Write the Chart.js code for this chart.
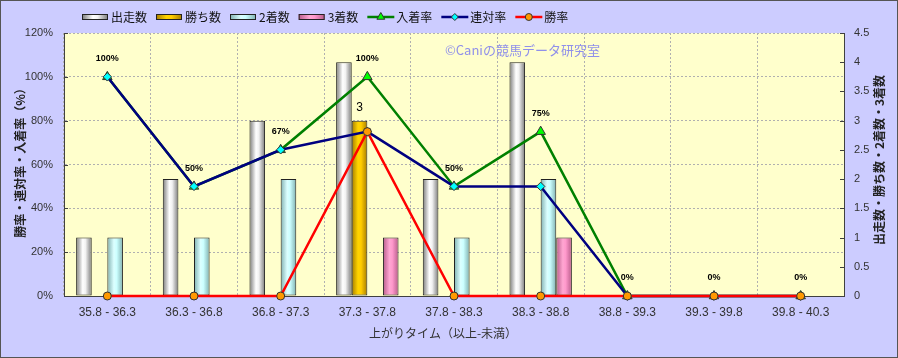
<!DOCTYPE html>
<html><head><meta charset="utf-8">
<script src="https://cdn.jsdelivr.net/npm/chart.js@4"></script>
<style>html,body{margin:0;padding:0;background:#CCCCFF}canvas{display:block}</style>
</head><body>
<canvas id="c" width="898" height="358"></canvas>
<script>
const categories = ['35.8 - 36.3','36.3 - 36.8','36.8 - 37.3','37.3 - 37.8','37.8 - 38.3','38.3 - 38.8','38.8 - 39.3','39.3 - 39.8','39.8 - 40.3'];
const starts   = [1,2,3,4,2,4,0,0,0];
const wins     = [0,0,0,3,0,0,0,0,0];
const seconds  = [1,1,2,0,1,2,0,0,0];
const thirds   = [0,0,0,1,0,1,0,0,0];
const placeRate    = [100,50,66.7,100,50,75,0,0,0];
const quinellaRate = [100,50,66.7,75,50,50,0,0,0];
const winRate      = [0,0,0,75,0,0,0,0,0];
const placeLabels  = ['100%','50%','67%','100%','50%','75%','0%','0%','0%'];
const seriesNames = ['出走数','勝ち数','2着数','3着数','入着率','連対率','勝率'];
const leftTitle = '勝率・連対率・入着率（%）';
const rightTitle = '出走数・勝ち数・2着数・3着数';
const xTitle = '上がりタイム（以上-未満）';
const watermark = '©Caniの競馬データ研究室';

const LATIN = '"Liberation Sans", "Noto Sans CJK JP", sans-serif';
const JP = '"Noto Sans CJK JP", sans-serif';

const barStops = [
  [[0,'#7a7a7a'],[0.42,'#ffffff'],[0.6,'#f2f2f2'],[1,'#7a7a7a']],
  [[0,'#a67c00'],[0.4,'#ffd400'],[0.6,'#ffcc00'],[1,'#a67c00']],
  [[0,'#7fb0b0'],[0.42,'#dcffff'],[0.6,'#ccffff'],[1,'#7fb0b0']],
  [[0,'#b85c8a'],[0.42,'#ffa6d2'],[0.6,'#ff99cc'],[1,'#b85c8a']]
];
function makeGrad(ctx, x0, x1, stops){
  const g = ctx.createLinearGradient(x0,0,x1,0);
  stops.forEach(s=>g.addColorStop(s[0],s[1]));
  return g;
}

const deco = {
  id:'deco',
  beforeDraw(chart){
    const {ctx, chartArea:a} = chart;
    ctx.save();
    ctx.fillStyle = '#CCCCFF';
    ctx.fillRect(0,0,chart.width,chart.height);
    ctx.fillStyle = '#FFFFCC';
    ctx.fillRect(a.left,a.top,a.right-a.left,a.bottom-a.top);
    ctx.restore();
  },
  beforeDatasetsDraw(chart){
    const ctx = chart.ctx;
    for(let d=0; d<4; d++){
      const meta = chart.getDatasetMeta(d);
      meta.data.forEach(el=>{
        const x0 = el.x - el.width/2, x1 = el.x + el.width/2;
        el.options = Object.assign({}, el.options, {backgroundColor: makeGrad(ctx,x0,x1,barStops[d])});
      });
    }
  },
  afterDatasetsDraw(chart){
    const ctx = chart.ctx;
    ctx.save();
    const m = chart.getDatasetMeta(4);
    ctx.font = 'bold 9px ' + LATIN;
    ctx.fillStyle = '#000';
    ctx.textAlign = 'center';
    ctx.textBaseline = 'middle';
    m.data.forEach((p,i)=>{ ctx.fillText(placeLabels[i], p.x, p.y-18); });
    const mw = chart.getDatasetMeta(1);
    ctx.font = '12px ' + LATIN;
    mw.data.forEach((b,i)=>{ if(wins[i]>0) ctx.fillText(String(wins[i]), b.x, b.y-13); });
    ctx.font = '13px ' + JP;
    ctx.fillStyle = '#9090ea';
    ctx.textAlign = 'left';
    ctx.fillText(watermark, 445, 50);
    ctx.restore();
  },
  afterDraw(chart){
    const {ctx, chartArea:a} = chart;
    ctx.save();
    ctx.strokeStyle = '#404040'; ctx.lineWidth = 1;
    const y = chart.scales.y, y1 = chart.scales.y1;
    y.ticks.forEach(t=>{ const py = Math.round(y.getPixelForValue(t.value))+0.5; ctx.beginPath(); ctx.moveTo(a.left,py); ctx.lineTo(a.left+4,py); ctx.stroke(); });
    y1.ticks.forEach(t=>{ const py = Math.round(y1.getPixelForValue(t.value))+0.5; ctx.beginPath(); ctx.moveTo(a.right-4,py); ctx.lineTo(a.right,py); ctx.stroke(); });
    ctx.fillStyle = '#222';
    ctx.textAlign = 'center'; ctx.textBaseline = 'middle';
    ctx.font = 'bold 12px ' + JP;
    ctx.save(); ctx.translate(20,160); ctx.rotate(-Math.PI/2); ctx.fillText(leftTitle,0,0); ctx.restore();
    ctx.save(); ctx.translate(879,160); ctx.rotate(-Math.PI/2); ctx.fillText(rightTitle,0,0); ctx.restore();
    ctx.font = '12px ' + JP;
    ctx.fillStyle = '#333';
    ctx.fillText(xTitle, 443, 333);
    let cx = 82; const ly = 17;
    ctx.font = '12px ' + JP;
    ctx.textAlign = 'left';
    chart.data.datasets.forEach((ds,i)=>{
      if(i<4){
        ctx.fillStyle = makeGrad(ctx,cx,cx+26,barStops[i]);
        ctx.fillRect(cx,ly-3,26,6);
        ctx.strokeStyle = '#222'; ctx.lineWidth = 1;
        ctx.strokeRect(cx+0.5,ly-3+0.5,25,5);
      } else {
        ctx.strokeStyle = ds.borderColor; ctx.lineWidth = 2.5;
        ctx.beginPath(); ctx.moveTo(cx,ly); ctx.lineTo(cx+27,ly); ctx.stroke();
        ctx.fillStyle = ds.pointBackgroundColor; ctx.strokeStyle = ds.pointBorderColor; ctx.lineWidth = 1;
        ctx.beginPath();
        const mx = cx+13.5;
        if(ds.pointStyle==='triangle'){ const r=4.5; ctx.moveTo(mx,ly-r); ctx.lineTo(mx+r*0.87,ly+r*0.5); ctx.lineTo(mx-r*0.87,ly+r*0.5); ctx.closePath(); }
        else if(ds.pointStyle==='rectRot'){ const r=3.5; ctx.moveTo(mx,ly-r); ctx.lineTo(mx+r,ly); ctx.lineTo(mx,ly+r); ctx.lineTo(mx-r,ly); ctx.closePath(); }
        else { ctx.arc(mx,ly,3.5,0,Math.PI*2); }
        ctx.fill(); ctx.stroke();
      }
      ctx.fillStyle = '#111';
      ctx.fillText(seriesNames[i], cx+29, ly);
      cx += 29 + ctx.measureText(seriesNames[i]).width + 9;
    });
    ctx.strokeStyle = '#555'; ctx.lineWidth = 1;
    ctx.strokeRect(0.5,0.5,chart.width-1,chart.height-1);
    ctx.restore();
  }
};

function barDs(label, data){
  return {type:'bar', label, data, yAxisID:'y1', order:10, borderColor:'#222', borderWidth:1, borderSkipped:false,
          categoryPercentage:0.72, barPercentage:1, backgroundColor:'#ccc'};
}
function lineDs(label, data, color, style, fill, r, order){
  return {type:'line', label, data, yAxisID:'y', order, borderColor:color, borderWidth:2.5, tension:0, clip:false,
          pointStyle:style, pointRadius:r, pointBackgroundColor:fill, pointBorderColor:'#333', pointBorderWidth:1};
}

new Chart(document.getElementById('c'), {
  type:'bar',
  data:{
    labels: categories,
    datasets:[
      barDs(seriesNames[0], starts),
      barDs(seriesNames[1], wins),
      barDs(seriesNames[2], seconds),
      barDs(seriesNames[3], thirds),
      lineDs(seriesNames[4], placeRate, '#008000', 'triangle', '#00ff00', 5.5, 3),
      lineDs(seriesNames[5], quinellaRate, '#000080', 'rectRot', '#00ffff', 4.2, 2),
      lineDs(seriesNames[6], winRate, '#ff0000', 'circle', '#ff9900', 4, 1)
    ]
  },
  options:{
    responsive:false, animation:false, devicePixelRatio:1,
    layout:{padding:{top:33,left:0,right:0,bottom:0}},
    plugins:{legend:{display:false}, tooltip:{enabled:false}, title:{display:false}},
    scales:{
      x:{
        offset:true,
        grid:{display:true, offset:true, color:'#b0b0b0', drawTicks:false},
        border:{display:true, color:'#404040', width:1, dash:[2,2]},
        ticks:{font:{size:12, family:LATIN}, color:'#333', padding:9, maxRotation:0, autoSkip:false},
        afterFit(s){ s.height = 62; }
      },
      y:{
        position:'left', min:0, max:120,
        grid:{color:'#b0b0b0', drawTicks:false},
        border:{display:true, color:'#404040', width:1, dash:[2,2]},
        ticks:{stepSize:20, callback:v=>v+'%', font:{size:11, family:LATIN}, color:'#333', padding:11},
        afterFit(s){ s.width = 64; }
      },
      y1:{
        position:'right', min:0, max:4.5,
        grid:{drawOnChartArea:false, drawTicks:false},
        border:{display:true, color:'#404040', width:1},
        ticks:{stepSize:0.5, callback:v=>String(Math.round(v*10)/10), font:{size:11, family:LATIN}, color:'#333', padding:10},
        afterFit(s){ s.width = 54; }
      }
    }
  },
  plugins:[deco]
});
</script>
</body></html>
